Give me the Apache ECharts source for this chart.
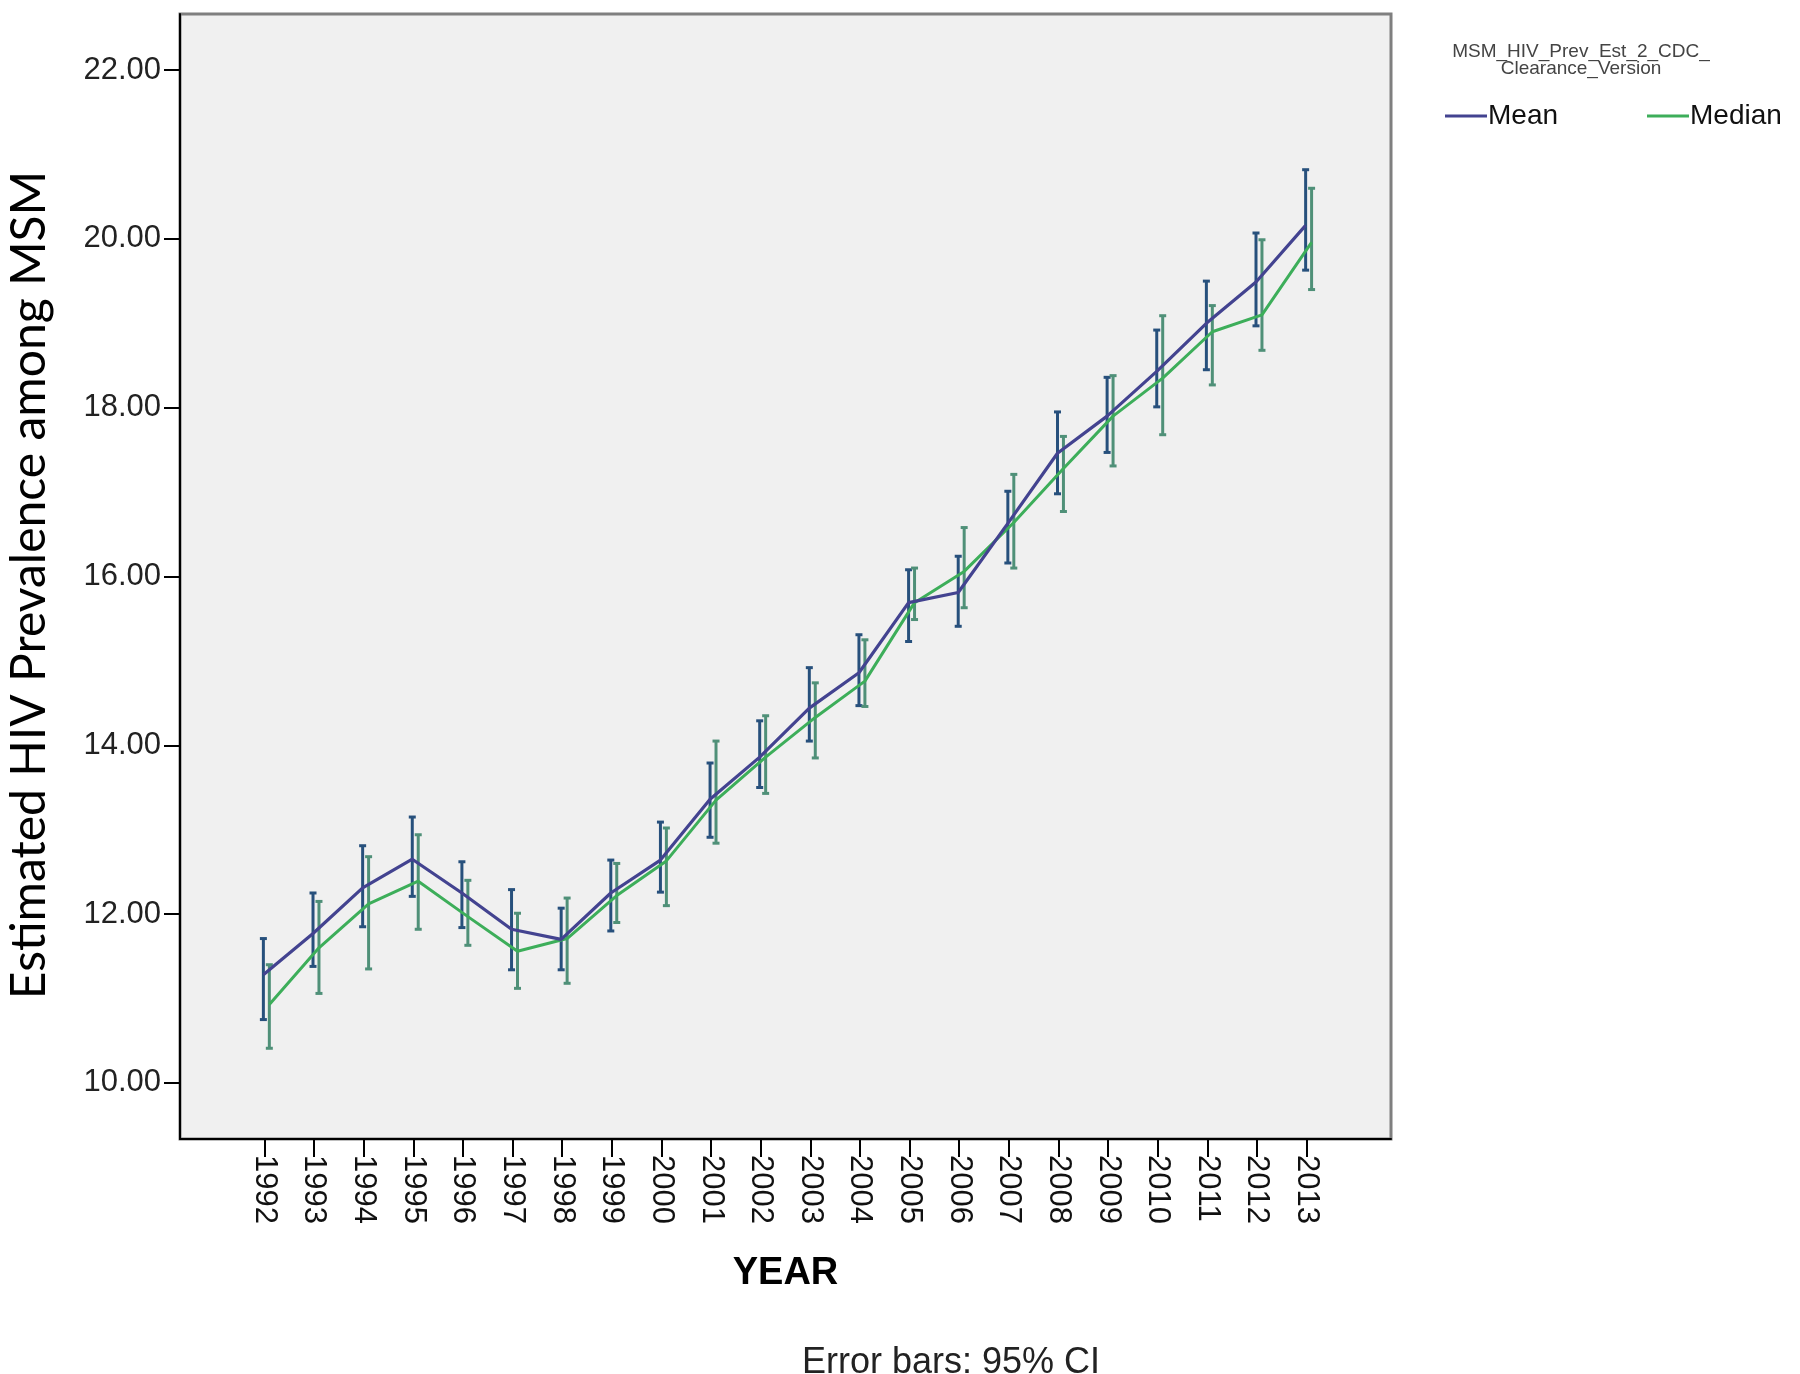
<!DOCTYPE html>
<html>
<head>
<meta charset="utf-8">
<script src="https://cdn.jsdelivr.net/npm/echarts@6/dist/echarts.min.js"></script>
<style>
html,body{margin:0;padding:0;background:#fff;}
#chart{width:1800px;height:1374px;}
</style>
</head>
<body>
<div id="chart"></div>
<script>
const years = [1992,1993,1994,1995,1996,1997,1998,1999,2000,2001,2002,2003,2004,2005,2006,2007,2008,2009,2010,2011,2012,2013];
const yTicks = [10,12,14,16,18,20,22];

const meanVals  = [11.28,11.77,12.31,12.65,12.25,11.82,11.70,12.25,12.64,13.36,13.86,14.44,14.86,15.69,15.81,16.63,17.46,17.90,18.43,19.00,19.49,20.16];
const meanLow   = [10.75,11.38,11.85,12.21,11.84,11.34,11.34,11.80,12.26,12.91,13.50,14.05,14.47,15.23,15.41,16.16,16.98,17.47,18.01,18.45,18.97,19.63];
const meanHigh  = [11.71,12.25,12.81,13.15,12.62,12.29,12.07,12.64,13.09,13.79,14.29,14.92,15.31,16.08,16.24,17.01,17.95,18.36,18.92,19.50,20.07,20.82];

const medianVals = [10.93,11.60,12.12,12.39,11.97,11.56,11.71,12.22,12.63,13.35,13.86,14.33,14.76,15.69,16.06,16.64,17.28,17.90,18.35,18.90,19.10,19.96];
const medianLow  = [10.41,11.06,11.35,11.82,11.63,11.12,11.18,11.90,12.10,12.84,13.43,13.85,14.46,15.49,15.63,16.10,16.77,17.31,17.68,18.27,18.68,19.40];
const medianHigh = [11.40,12.15,12.68,12.94,12.40,12.01,12.19,12.60,13.02,14.05,14.35,14.74,15.25,16.10,16.58,17.21,17.66,18.38,19.09,19.21,19.99,20.60];

// cluster offsets (in years) for the two statistics
const meanShift = -0.02, medianShift = 0.10;

const chart = echarts.init(document.getElementById('chart'), null, {renderer:'canvas'});

function errBar(color){
  return function(params, api){
    const x = api.value(0), lo = api.value(1), hi = api.value(2);
    const a = api.coord([x, lo]), b = api.coord([x, hi]);
    const cw = 3.5;
    const st = {stroke: color, lineWidth: 3};
    return {type:'group', children:[
      {type:'line', shape:{x1:a[0], y1:a[1], x2:b[0], y2:b[1]}, style: st},
      {type:'line', shape:{x1:a[0]-cw, y1:a[1], x2:a[0]+cw, y2:a[1]}, style: st},
      {type:'line', shape:{x1:b[0]-cw, y1:b[1], x2:b[0]+cw, y2:b[1]}, style: st}
    ]};
  };
}

const meanColor = '#434390', medianColor = '#3dae5a';
const meanBarColor = '#27507c', medianBarColor = '#4f9078';

const font = 'Liberation Sans, Arial, sans-serif';

chart.setOption({
  animation: false,
  backgroundColor: '#ffffff',
  title: [
    {text: 'MSM_HIV_Prev_Est_2_CDC_\nClearance_Version', left: 1576, top: 38, textAlign: 'center',
     textStyle: {fontFamily: font, fontSize: 19, fontWeight: 'normal', color: '#444', lineHeight: 17}},
    {text: 'Error bars: 95% CI', left: 946, top: 1340, textAlign: 'center',
     textStyle: {fontFamily: font, fontSize: 36, fontWeight: 'normal', color: '#222'}}
  ],
  graphic: [
    {type: 'text', x: 30, y: 585, rotation: Math.PI / 2,
     style: {text: 'Estimated HIV Prevalence among MSM', fill: '#000',
             font: '48px Lato, "Open Sans", sans-serif', textAlign: 'center', textVerticalAlign: 'middle'}}
  ],
  legend: [
    {data: ['Mean'], left: 1440, top: 97, itemWidth: 42, itemHeight: 3, icon: 'rect',
     textStyle: {fontFamily: font, fontSize: 28, color: '#111', padding: [0,0,0,-4]}},
    {data: ['Median'], left: 1642, top: 97, itemWidth: 42, itemHeight: 3, icon: 'rect',
     textStyle: {fontFamily: font, fontSize: 28, color: '#111', padding: [0,0,0,-4]}}
  ],
  grid: {left: 180, right: 409, top: 14, bottom: 235, show: true, backgroundColor: '#f0f0f0',
         borderColor: '#7f7f7f', borderWidth: 3},
  xAxis: {
    type: 'value', min: 1990.3, max: 2014.7,
    name: 'YEAR', nameLocation: 'middle', nameGap: 116,
    nameTextStyle: {fontFamily: font, fontSize: 38, fontWeight: 'bold', color: '#000'},
    axisLine: {show: true, onZero: false, lineStyle: {color: '#000', width: 2}},
    axisTick: {show: true, length: 18, customValues: years, lineStyle: {color: '#000', width: 2}},
    axisLabel: {show: true, customValues: years, rotate: -90, margin: 16,
                fontFamily: font, fontSize: 31, color: '#111', formatter: v => String(v)},
    splitLine: {show: false}
  },
  yAxis: {
    type: 'value', min: 9.335, max: 22.665,
    axisLine: {show: true, onZero: false, lineStyle: {color: '#000', width: 2}},
    axisTick: {show: true, length: 16, customValues: yTicks, lineStyle: {color: '#000', width: 2}},
    axisLabel: {show: true, customValues: yTicks, margin: 19,
                fontFamily: font, fontSize: 31, color: '#222', formatter: v => v.toFixed(2)},
    splitLine: {show: false}
  },
  series: [
    {name: 'MeanCI', type: 'custom', renderItem: errBar(meanBarColor), z: 2,
     encode: {x: 0, y: [1, 2]},
     data: years.map((y, i) => [y + meanShift, meanLow[i], meanHigh[i]])},
    {name: 'MedianCI', type: 'custom', renderItem: errBar(medianBarColor), z: 2,
     encode: {x: 0, y: [1, 2]},
     data: years.map((y, i) => [y + medianShift, medianLow[i], medianHigh[i]])},
    {name: 'Median', type: 'line', showSymbol: false, symbol: 'none', z: 3,
     lineStyle: {color: medianColor, width: 3}, itemStyle: {color: medianColor},
     data: years.map((y, i) => [y + medianShift, medianVals[i]])},
    {name: 'Mean', type: 'line', showSymbol: false, symbol: 'none', z: 4,
     lineStyle: {color: meanColor, width: 3.2}, itemStyle: {color: meanColor},
     data: years.map((y, i) => [y + meanShift, meanVals[i]])}
  ]
});
</script>
</body>
</html>
